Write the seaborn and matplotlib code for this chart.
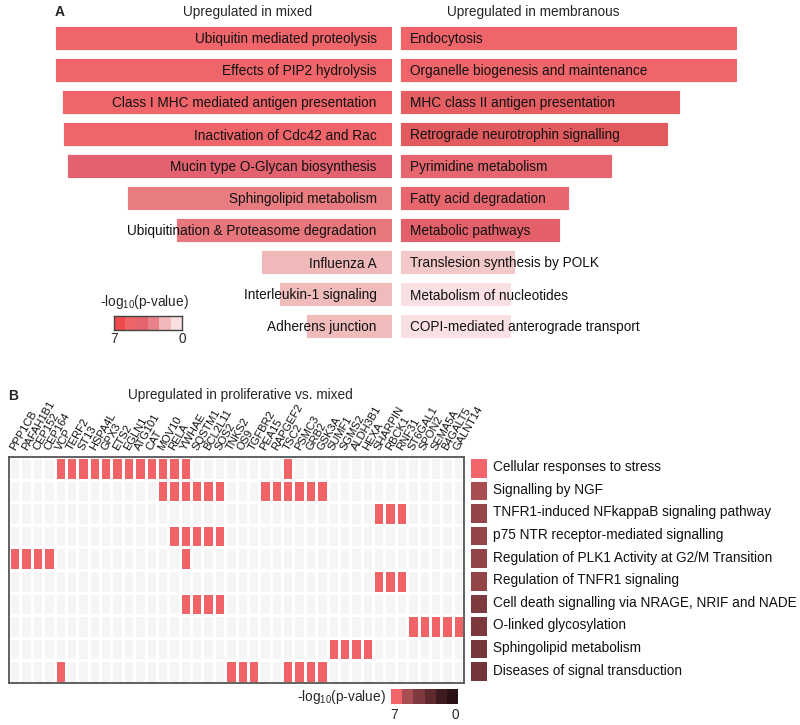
import numpy as np
import matplotlib.pyplot as plt
import seaborn as sns
from matplotlib.colors import ListedColormap, LinearSegmentedColormap

sns.set_theme(style="white")
plt.rcParams['font.family'] = ['Liberation Sans', 'DejaVu Sans']
plt.rcParams['mathtext.fontset'] = 'custom'
plt.rcParams['mathtext.rm'] = 'Liberation Sans'
plt.rcParams['mathtext.default'] = 'regular'

# ---- panel A data ----
mixed_terms = ["Ubiquitin mediated proteolysis", "Effects of PIP2 hydrolysis",
               "Class I MHC mediated antigen presentation", "Inactivation of Cdc42 and Rac",
               "Mucin type O-Glycan biosynthesis", "Sphingolipid metabolism",
               "Ubiquitination & Proteasome degradation", "Influenza A",
               "Interleukin-1 signaling", "Adherens junction"]
mixed_score = [10.0, 10.0, 9.8, 9.75, 9.65, 7.85, 6.4, 3.9, 3.35, 2.55]

membr_terms = ["Endocytosis", "Organelle biogenesis and maintenance",
               "MHC class II antigen presentation", "Retrograde neurotrophin signalling",
               "Pyrimidine metabolism", "Fatty acid degradation", "Metabolic pathways",
               "Translesion synthesis by POLK", "Metabolism of nucleotides",
               "COPI-mediated anterograde transport"]
membr_score = [10.0, 10.0, 8.3, 7.95, 6.3, 5.0, 4.75, 3.4, 3.3, 3.3]

# bar shades
mixed_colors = ["#F0656A", "#F0656A", "#F0656A", "#F0656A", "#E2636F",
                "#E87C80", "#E8777D", "#F0B9B9", "#F0BBBB", "#F0BBBB"]
membr_colors = ["#F0656A", "#F0656A", "#E45E62", "#E05A5E", "#E5666F",
                "#E8676F", "#E3606B", "#F2C8C8", "#FAE0E2", "#FAE0E2"]

legend_a = ["#EE4A4E", "#EF6466", "#E4636E", "#E9818A", "#F0B8B9", "#FADFE1"]

# ---- panel B data ----
genes = ["PPP1CB", "PAFAH1B1", "CEP152", "CEP164", "VCP", "TERF2", "ST13", "HSPA4L",
         "GPX3", "ETS2", "EGLN1", "ATG101", "CAT", "MOV10", "RELA", "YWHAE", "SQSTM1",
         "BCL2L11", "SOS2", "TNKS2", "OS9", "TGFBR2", "PEA15", "RAPGEF2", "TSC2",
         "PSMC3", "GRB2", "GSK3A", "SUMF1", "SGMS2", "ALDH3B1", "HEXA", "SHARPIN",
         "RBCK1", "RNF31", "ST6GAL1", "SPON2", "SEMA5A", "B4GALT5", "GALNT14"]

pathways = ["Cellular responses to stress", "Signalling by NGF",
            "TNFR1-induced NFkappaB signaling pathway", "p75 NTR receptor-mediated signalling",
            "Regulation of PLK1 Activity at G2/M Transition", "Regulation of TNFR1 signaling",
            "Cell death signalling via NRAGE, NRIF and NADE", "O-linked glycosylation",
            "Sphingolipid metabolism", "Diseases of signal transduction"]
pathway_neglogp = [7.0, 5.6, 5.0, 5.0, 4.9, 4.9, 4.2, 4.1, 3.9, 3.8]

stress_genes = ["VCP", "TERF2", "ST13", "HSPA4L", "GPX3", "ETS2", "EGLN1", "ATG101",
                "CAT", "MOV10", "RELA", "YWHAE", "TSC2"]
ngf_genes = ["MOV10", "RELA", "YWHAE", "SQSTM1", "BCL2L11", "SOS2",
             "PEA15", "RAPGEF2", "TSC2", "PSMC3", "GRB2", "GSK3A"]
nfkb_genes = ["SHARPIN", "RBCK1", "RNF31"]
p75_genes = ["RELA", "YWHAE", "SQSTM1", "BCL2L11", "SOS2"]
plk1_genes = ["PPP1CB", "PAFAH1B1", "CEP152", "CEP164", "YWHAE"]
tnfr1_genes = ["SHARPIN", "RBCK1", "RNF31"]
death_genes = ["YWHAE", "SQSTM1", "BCL2L11", "SOS2"]
olinked_genes = ["ST6GAL1", "SPON2", "SEMA5A", "B4GALT5", "GALNT14"]
sphingo_genes = ["SUMF1", "SGMS2", "ALDH3B1", "HEXA"]
disease_genes = ["VCP", "TNKS2", "OS9", "TGFBR2", "TSC2", "PSMC3", "GRB2", "GSK3A"]

legend_b = ["#F0646A", "#A84D51", "#7D3A3F", "#5E2A2E", "#3E1B1E", "#2A1214"]

members = [stress_genes, ngf_genes, nfkb_genes, p75_genes, plk1_genes,
           tnfr1_genes, death_genes, olinked_genes, sphingo_genes, disease_genes]
mat = np.array([[1 if g in m else 0 for g in genes] for m in members])

W, H = 800, 725
FS = 9.8
fig = plt.figure(figsize=(W / 100, H / 100), dpi=100)


def box(x0, y0, x1, y1):
    return [x0 / W, 1 - y1 / H, (x1 - x0) / W, (y1 - y0) / H]


# ---- panel A ----
axl = fig.add_axes(box(55, 22, 392, 342))
sns.barplot(x=mixed_score, y=mixed_terms, hue=mixed_terms, palette=mixed_colors,
            orient="h", width=0.74, saturation=1, legend=False,
            edgecolor="white", linewidth=0.6, ax=axl)
axl.set_xlim(10.0, 0)
axl.axis("off")
for i, t in enumerate(mixed_terms):
    axl.text(0.955, i, t, transform=axl.get_yaxis_transform(), ha="right",
             va="center_baseline", fontsize=FS, color="#111111")

axr = fig.add_axes(box(400, 22, 737, 342))
sns.barplot(x=membr_score, y=membr_terms, hue=membr_terms, palette=membr_colors,
            orient="h", width=0.74, saturation=1, legend=False,
            edgecolor="white", linewidth=0.6, ax=axr)
axr.set_xlim(0, 10.0)
axr.axis("off")
for i, t in enumerate(membr_terms):
    axr.text(0.03, i, t, transform=axr.get_yaxis_transform(), ha="left",
             va="center_baseline", fontsize=FS, color="#111111")

fig.text(55 / W, 1 - 12 / H, "A", fontsize=10, fontweight="bold", va="center")
fig.text(248 / W, 1 - 12 / H, "Upregulated in mixed", fontsize=FS, ha="center", va="center")
fig.text(533 / W, 1 - 12 / H, "Upregulated in membranous", fontsize=FS, ha="center", va="center")

# legend A
axla = fig.add_axes(box(114, 316, 182, 330))
sns.heatmap([list(range(6))], cmap=ListedColormap(legend_a), cbar=False,
            xticklabels=False, yticklabels=False, ax=axla)
for s in axla.spines.values():
    s.set_visible(True)
    s.set_color("#444444")
    s.set_linewidth(1)
fig.text(144 / W, 1 - 302 / H, "-log$_{10}$(p-value)", fontsize=FS, ha="center", va="center")
fig.text(114 / W, 1 - 339 / H, "7", fontsize=FS, ha="center", va="center")
fig.text(182 / W, 1 - 339 / H, "0", fontsize=FS, ha="center", va="center")

# ---- panel B ----
axh = fig.add_axes(box(9, 457, 464, 683))
sns.heatmap(mat, cmap=ListedColormap(["#F5F5F5", "#F06468"]), cbar=False,
            linewidths=0.8, linecolor="white", xticklabels=False, yticklabels=False, ax=axh)
for s in axh.spines.values():
    s.set_visible(True)
    s.set_color("#555555")
    s.set_linewidth(1.3)
for i, g in enumerate(genes):
    axh.text(i + 0.55, -0.25, g, rotation=60, rotation_mode="anchor", ha="left",
             va="baseline", fontsize=8.0, color="#111111", clip_on=False)

cmap_b = LinearSegmentedColormap.from_list("b", legend_b[::-1])
axc = fig.add_axes(box(469, 457, 489, 683))
sns.heatmap(np.array(pathway_neglogp)[:, None], cmap=cmap_b, vmin=0, vmax=7, cbar=False,
            linewidths=1.6, linecolor="white", xticklabels=False, yticklabels=False, ax=axc)
for i, p in enumerate(pathways):
    axc.text(1.2, i + 0.45, p, ha="left", va="center", fontsize=FS,
             color="#111111", clip_on=False)

fig.text(8 / W, 1 - 396 / H, "B", fontsize=10, fontweight="bold", va="center")
fig.text(240 / W, 1 - 395 / H, "Upregulated in proliferative vs. mixed", fontsize=FS,
         ha="center", va="center")

# legend B
axlb = fig.add_axes(box(391, 689, 458, 704))
sns.heatmap([list(range(6))], cmap=ListedColormap(legend_b), cbar=False,
            xticklabels=False, yticklabels=False, ax=axlb)
fig.text(386 / W, 1 - 697 / H, "-log$_{10}$(p-value)", fontsize=FS, ha="right", va="center")
fig.text(394 / W, 1 - 715 / H, "7", fontsize=FS, ha="center", va="center")
fig.text(455 / W, 1 - 715 / H, "0", fontsize=FS, ha="center", va="center")

fig.savefig("out.png", dpi=100)
